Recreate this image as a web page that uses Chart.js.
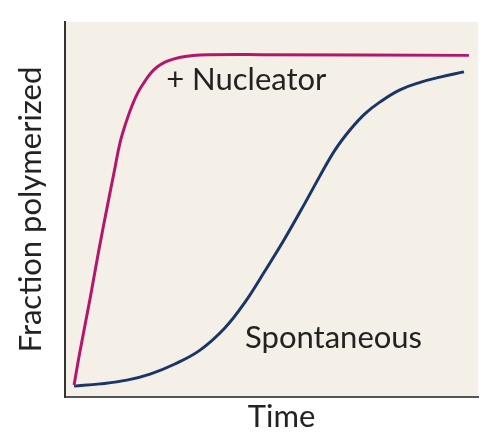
<!DOCTYPE html>
<html>
<head>
<meta charset="utf-8">
<script src="https://cdn.jsdelivr.net/npm/chart.js@4.4.1/dist/chart.umd.min.js"></script>
<style>
    html, body { margin: 0; padding: 0; background: #ffffff; }
    #wrap { width: 480px; height: 432px; }
</style>
</head>
<body>
<div id="wrap"><canvas id="polymerChart"></canvas></div>
<script>
(function () {
    "use strict";

    // time (arbitrary units) and fraction polymerized
    var nucleatorTime = [2.2, 3.6, 6.1, 8.2, 10.4, 11.9, 13.3, 14.8, 16.2, 17.7, 19.4, 20.8, 22.3, 24.2, 26.2, 29.1, 32.7, 47.2, 97.8];
    var nucleatorFrac = [0.032, 0.12, 0.264, 0.392, 0.517, 0.6, 0.677, 0.733, 0.776, 0.813, 0.843, 0.864, 0.88, 0.893, 0.901, 0.908, 0.912, 0.913, 0.911];

    var spontTime = [2.2, 8.5, 15, 20.6, 26.6, 32.7, 38.7, 43.6, 48.4, 53.3, 58.1, 61.7, 65.4, 69, 72.6, 76.3, 81.1, 86, 90.8, 96.6];
    var spontFrac = [0.029, 0.035, 0.045, 0.061, 0.088, 0.125, 0.184, 0.253, 0.336, 0.424, 0.517, 0.589, 0.659, 0.712, 0.755, 0.787, 0.819, 0.839, 0.853, 0.867];

    var seriesLabels = ["+ Nucleator", "Spontaneous"];
    // where each curve label sits, in data units
    var labelSpots = [{ x: 24.5, y: 0.845 }, { x: 43.6, y: 0.157 }];

    var fontFamily = "Lato, 'Open Sans', sans-serif";

    function toPoints(xs, ys) {
        return xs.map(function (x, i) {
            return { x: x, y: ys[i] };
        });
    }

    var plotBackground = {
        id: "plotBackground",
        beforeDraw: function (chart) {
            var ctx = chart.ctx;
            var a = chart.chartArea;
            ctx.save();
            ctx.fillStyle = "#f4f0e8";
            ctx.fillRect(a.left, a.top, a.right - a.left, a.bottom - a.top);
            ctx.restore();
        }
    };

    var curveLabels = {
        id: "curveLabels",
        afterDatasetsDraw: function (chart) {
            var ctx = chart.ctx;
            var a = chart.chartArea;
            var xs = chart.scales.x;
            var ys = chart.scales.y;
            ctx.save();
            ctx.fillStyle = "#222222";
            ctx.font = "31px " + fontFamily;
            ctx.textAlign = "left";
            ctx.textBaseline = "middle";
            seriesLabels.forEach(function (txt, i) {
                ctx.fillText(txt, xs.getPixelForValue(labelSpots[i].x), ys.getPixelForValue(labelSpots[i].y));
            });
            // x axis title, sits a little right of centre in the original
            ctx.textAlign = "center";
            ctx.fillText("Time", (a.left + a.right) / 2 + 10, a.bottom + 20);
            ctx.restore();
        }
    };

    var ctx = document.getElementById("polymerChart").getContext("2d");
    new Chart(ctx, {
        type: "line",
        data: {
            datasets: [
                {
                    label: seriesLabels[0],
                    data: toPoints(nucleatorTime, nucleatorFrac),
                    borderColor: "#b3176b",
                    borderWidth: 3,
                    pointRadius: 0,
                    tension: 0.4,
                    fill: false
                },
                {
                    label: seriesLabels[1],
                    data: toPoints(spontTime, spontFrac),
                    borderColor: "#1b3566",
                    borderWidth: 3,
                    pointRadius: 0,
                    tension: 0.4,
                    fill: false
                }
            ]
        },
        options: {
            responsive: true,
            maintainAspectRatio: false,
            animation: false,
            layout: {
                padding: { top: 22, right: 2, left: 0, bottom: 0 }
            },
            plugins: {
                legend: { display: false },
                tooltip: { enabled: false }
            },
            scales: {
                x: {
                    type: "linear",
                    min: 0,
                    max: 100,
                    grid: { display: false },
                    border: { display: true, color: "#555555", width: 2 },
                    ticks: { display: false },
                    afterFit: function (scale) {
                        scale.height = 35;
                    }
                },
                y: {
                    type: "linear",
                    min: 0,
                    max: 1,
                    grid: { display: false },
                    border: { display: true, color: "#333333", width: 2 },
                    ticks: { display: false },
                    title: {
                        display: true,
                        text: "Fraction polymerized",
                        color: "#222222",
                        font: { family: fontFamily, size: 31 },
                        padding: { top: 12, bottom: 0 }
                    },
                    afterFit: function (scale) {
                        scale.width = 65;
                    }
                }
            }
        },
        plugins: [plotBackground, curveLabels]
    });
})();
</script>
</body>
</html>
